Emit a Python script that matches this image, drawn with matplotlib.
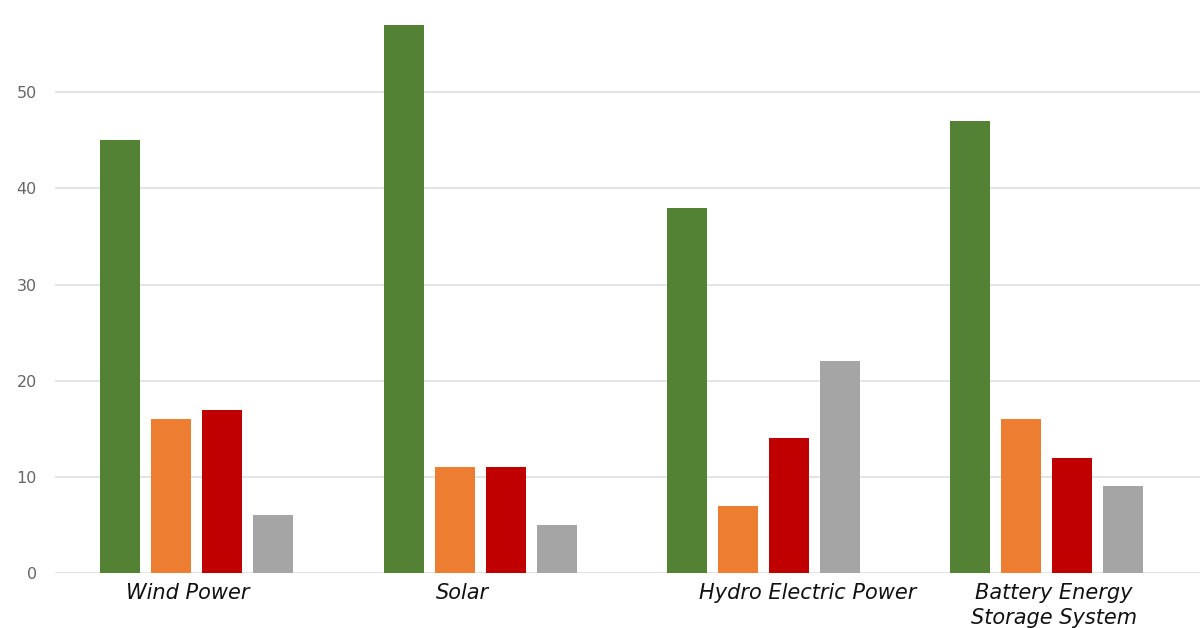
import numpy as np
from matplotlib import pyplot as plt

# ======================
# DATI
# ======================
categories = ["Wind Power", "Solar", "Hydro Electric Power", "Battery Energy\nStorage System"]
series_1 = [45, 57, 38, 47]
series_2 = [16, 11, 7, 16]
series_3 = [17, 11, 14, 12]
series_4 = [6, 5, 22, 9]
y_ticks = [0, 10, 20, 30, 40, 50]

colors = ["#548235", "#ED7D31", "#C00000", "#A5A5A5"]

# ======================
# GRAFICO
# ======================
fig = plt.figure(figsize=(12, 6.28), dpi=100)
ax = fig.add_axes([55 / 1200, 55 / 628, 1145 / 1200, 573 / 628])

x = np.arange(len(categories))
width = 0.141
pitch = 0.18
all_series = [series_1, series_2, series_3, series_4]
for i, (vals, col) in enumerate(zip(all_series, colors)):
    ax.bar(x + (i - 1.5) * pitch, vals, width=width, color=col, zorder=3)

ax.set_xlim(-0.5, 3.54)
ax.set_ylim(0, 59.6)
ax.set_yticks(y_ticks)
ax.set_xticks([])
ax.tick_params(axis="y", length=0, pad=13, labelsize=11.5, labelcolor="#666666")
ax.grid(axis="y", color="#dcdcdc", linewidth=1.1, zorder=0)
for s in ax.spines.values():
    s.set_visible(False)

# etichette categorie (leggermente spostate come nell'originale)
label_shift = [-0.03, -0.064, 0.155, 0.025]
for xi, name, dx in zip(x, categories, label_shift):
    ax.annotate(name, xy=(xi + dx, 0), xycoords="data",
                xytext=(0, -7), textcoords="offset points",
                ha="center", va="top", fontsize=15, style="italic",
                color="#111111", linespacing=1.3, annotation_clip=False)

plt.savefig("out.png", dpi=100)
